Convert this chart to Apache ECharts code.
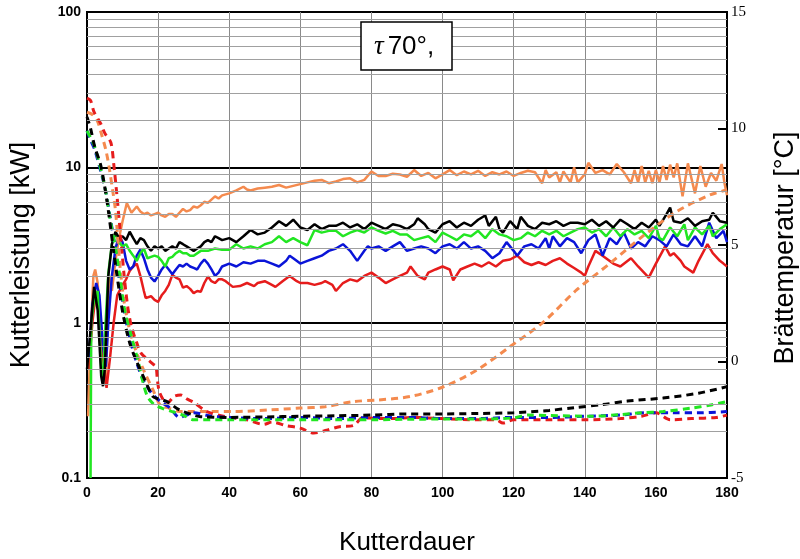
<!DOCTYPE html>
<html>
<head>
<meta charset="utf-8">
<script src="https://cdn.jsdelivr.net/npm/echarts@6/dist/echarts.min.js"></script>
<style>html,body{margin:0;padding:0;background:#fff}#c{width:800px;height:559px}</style>
</head>
<body>
<div id="c"></div>
<script>
// x: Kutterdauer, left y: Kutterleistung [kW] (log), right y: Brättemperatur [°C]
const xRange = [0, 180, 20];
const powerRange = [0.1, 100];
const tempRange = [-5, 15, 5];
const minorGrid = [0.2,0.3,0.4,0.5,0.6,0.7,0.8,0.9,2,3,4,5,6,7,8,9,20,30,40,50,60,70,80,90];

const blackPower = [[0,0.5],[1,0.9],[2,1.7],[3,1.2],[4,0.45],[4.5,0.39],[5,0.5],[6,2.0],[7,3.2],[8,3.85],[9,3.5],[10,3.6],[11,3.4],[12,3.85],[13,3.5],[14,3.2],[15,3.5],[16,3.4],[17,3.1],[18,2.9],[19,3.1],[20,3.0],[21,3.1],[22,2.9],[23,3.0],[24,3.1],[25,3.0],[26,3.3],[27,3.2],[28,3.1],[29,3.0],[30,2.9],[31,3.0],[32,3.1],[33,3.3],[34,3.4],[35,3.3],[36,3.6],[37,3.5],[38,3.4],[40,3.5],[42,3.3],[44,3.6],[46,3.95],[48,3.7],[50,3.8],[52,4.1],[54,4.5],[56,4.2],[58,4.6],[60,4.1],[62,3.95],[64,4.3],[66,4.0],[68,4.2],[70,4.2],[72,4.4],[74,4.1],[76,4.3],[78,4.0],[80,4.4],[82,4.2],[84,4.0],[86,4.3],[88,4.2],[90,4.0],[92,4.3],[93,4.7],[95,4.3],[96,4.0],[98,3.8],[100,4.3],[102,4.5],[104,4.1],[106,4.4],[108,4.2],[110,4.6],[112,4.9],[113,4.2],[115,4.8],[116,4.0],[117,3.8],[119,4.5],[121,4.0],[122,4.8],[124,4.2],[126,4.0],[128,4.4],[130,4.3],[132,4.5],[134,4.2],[136,4.4],[138,4.4],[140,4.3],[142,4.6],[144,4.2],[146,4.5],[148,4.1],[150,4.6],[152,4.3],[154,4.0],[156,4.4],[158,4.1],[160,4.6],[161,4.2],[163,5.0],[164,5.5],[165,4.5],[167,4.4],[169,4.7],[171,4.2],[173,4.5],[175,4.6],[176,5.1],[177,4.8],[178,4.5],[180,4.4]];

const greenPower = [[1,0.1],[1.2,1.0],[2,1.4],[3,1.6],[4,0.5],[4.5,0.42],[5,0.8],[6,2.1],[7,3.2],[8,3.8],[9,3.3],[10,3.1],[11,3.2],[12,2.9],[13,2.7],[14,2.5],[15,2.8],[16,3.0],[17,2.6],[18,2.65],[19,2.7],[20,2.65],[21,2.5],[22,2.3],[23,2.6],[24,2.65],[25,2.8],[26,2.9],[27,2.8],[28,2.8],[29,2.7],[30,2.7],[32,2.9],[34,2.9],[36,3.0],[38,2.95],[40,2.95],[42,3.2],[44,3.0],[46,3.1],[48,3.0],[50,3.2],[52,3.3],[54,3.6],[56,3.3],[58,3.5],[60,3.3],[62,3.15],[64,3.95],[66,3.8],[68,3.9],[70,3.9],[72,3.6],[74,3.8],[76,3.95],[78,3.8],[80,4.1],[82,3.9],[84,3.75],[86,3.9],[88,3.7],[90,3.7],[92,3.4],[94,3.5],[96,3.6],[98,3.3],[100,3.8],[102,3.6],[104,3.4],[106,3.7],[108,3.6],[110,3.9],[112,3.5],[114,4.0],[116,3.7],[118,3.6],[120,3.4],[122,3.5],[124,3.8],[126,3.6],[128,3.9],[130,3.7],[132,3.9],[134,3.6],[136,3.8],[138,4.0],[140,4.1],[142,3.8],[144,4.0],[146,3.6],[148,4.1],[150,3.6],[152,4.0],[154,3.7],[156,3.9],[158,3.5],[160,4.2],[161,3.5],[162,3.4],[164,4.1],[166,3.6],[168,4.3],[169,3.4],[171,4.1],[173,3.7],[175,4.2],[176,3.6],[178,4.0],[180,4.3]];

const bluePower = [[0.5,0.6],[1.5,1.3],[2.6,1.8],[3.5,1.5],[4.5,0.7],[5.3,0.52],[6,1.0],[7,2.0],[8,3.0],[9,3.6],[10,3.3],[11,2.5],[12,2.2],[13,2.3],[14,2.7],[15,2.95],[16,2.6],[17,2.2],[18,1.95],[19,1.84],[20,2.0],[21,2.2],[22,2.35],[23,2.2],[24,2.05],[25,2.2],[26,2.35],[27,2.3],[28,2.4],[29,2.3],[30,2.25],[31,2.2],[32,2.4],[33,2.55],[34,2.4],[35,2.2],[36,2.0],[37,2.1],[38,2.3],[40,2.4],[42,2.3],[44,2.45],[46,2.4],[48,2.5],[50,2.5],[52,2.4],[54,2.3],[56,2.5],[57,2.7],[58,2.6],[60,2.4],[62,2.5],[64,2.6],[66,2.7],[68,2.9],[70,3.0],[72,3.2],[74,2.9],[76,2.5],[78,2.9],[79,3.1],[80,3.0],[82,3.1],[84,2.9],[86,3.1],[88,3.3],[90,2.9],[92,3.0],[94,3.1],[96,3.0],[98,2.8],[100,3.1],[102,3.2],[104,3.0],[106,3.3],[108,3.0],[110,3.1],[112,2.9],[114,2.6],[116,2.8],[118,3.3],[120,2.9],[121,2.7],[123,3.1],[125,3.2],[127,3.0],[129,3.5],[130,3.0],[131,3.6],[133,3.1],[135,3.5],[137,3.3],[139,2.8],[141,3.4],[143,3.7],[145,2.7],[147,3.5],[149,3.2],[151,3.8],[153,3.0],[155,3.3],[157,3.1],[159,3.6],[161,3.4],[163,3.1],[165,3.7],[167,3.2],[169,3.1],[171,3.6],[173,3.1],[175,4.4],[177,3.5],[179,3.9],[180,3.3]];

const redPower = [[0.5,0.5],[1.5,1.0],[2.6,1.6],[3.5,1.2],[4.5,0.6],[5.5,0.38],[6.5,0.6],[7.5,1.0],[8.5,1.5],[10,1.75],[11,1.9],[12,2.15],[13,2.3],[14,2.4],[15,2.0],[16,1.6],[16.5,1.44],[18,1.48],[19,1.4],[20,1.36],[21,1.5],[22,1.6],[23,1.75],[24,2.03],[25,1.95],[26,1.9],[27,1.68],[28,1.72],[29,1.65],[30,1.55],[31,1.6],[32,1.58],[33,1.8],[34,1.98],[35,1.85],[36,1.8],[37,1.9],[38,1.9],[39,1.85],[41,1.7],[43,1.72],[45,1.8],[47,1.72],[48,1.8],[50,1.85],[52,1.75],[53,1.7],[55,1.85],[57,2.0],[59,1.85],[60,1.8],[62,1.8],[64,1.75],[66,1.8],[67,1.85],[69,1.75],[70,1.6],[72,1.8],[74,1.9],[76,1.85],[78,2.0],[80,2.1],[82,1.95],[84,1.8],[86,1.9],[88,2.0],[90,2.1],[91,2.3],[93,2.0],[95,1.9],[96,2.1],[98,2.2],[100,2.3],[102,2.2],[103,1.87],[105,2.2],[107,2.3],[109,2.4],[111,2.3],[113,2.45],[115,2.3],[117,2.5],[119,2.55],[121,2.7],[123,2.45],[125,2.35],[127,2.45],[129,2.35],[131,2.5],[133,2.6],[135,2.4],[137,2.25],[139,2.1],[140,2.0],[141,2.3],[143,2.9],[145,2.7],[148,2.4],[150,2.3],[153,2.6],[155,2.3],[158,1.95],[160,2.4],[162.6,3.1],[164,2.7],[165,2.8],[167,2.5],[168,2.3],[170.5,2.1],[172,2.5],[174.5,3.2],[176,2.8],[178,2.5],[179,2.4],[180,2.3]];

const orangePower = [[0.3,0.25],[1,0.8],[1.8,2.0],[2.3,2.2],[3,1.8],[4,0.8],[5.3,0.4],[6.2,2.0],[7,1.6],[8,2.5],[9,3.5],[10,4.5],[11.2,5.9],[12.5,5.1],[14,5.6],[15,5.2],[16,5.0],[17,5.1],[18,4.9],[19,5.0],[20,5.1],[21,4.9],[22,4.8],[23,5.0],[24,5.0],[25,4.8],[26,5.1],[27,5.4],[28,5.2],[29,5.3],[30,5.6],[31,5.5],[32,5.7],[33,6.0],[34,5.9],[35,6.2],[36,6.5],[37,6.3],[38,6.6],[40,6.8],[42,7.1],[44,7.5],[45,7.2],[46,7.1],[48,7.3],[50,7.4],[52,7.5],[54,7.7],[56,7.4],[58,7.6],[60,7.8],[62,8.0],[64,8.2],[66,8.3],[68,7.9],[70,8.1],[72,8.4],[74,8.5],[76,8.0],[78,8.3],[80,9.4],[82,8.8],[84,8.8],[86,9.1],[88,9.0],[90,8.7],[92,9.6],[94,8.8],[96,9.2],[98,8.5],[100,9.0],[102,9.6],[104,8.9],[106,9.4],[108,9.0],[110,9.5],[112,8.8],[114,9.3],[116,9.0],[118,9.4],[120,8.8],[122,9.2],[124,9.5],[126,9.3],[128,7.9],[129,9.6],[130,8.6],[132,9.3],[133,8.0],[134,9.4],[136,8.0],[137,10.0],[138,8.0],[140,9.0],[141,10.7],[143,9.2],[145,9.6],[147,9.0],[149,10.5],[151,9.3],[153,7.9],[154,9.6],[155,8.0],[156,10.2],[157,8.0],[158,9.5],[159,7.9],[160,9.6],[161,8.0],[162,10.2],[163,8.3],[164,10.4],[165,8.6],[166,10.6],[167.5,6.5],[169,10.6],[171,6.8],[172.5,10.2],[174,7.5],[175.5,9.2],[177,8.2],[178.5,10.5],[179.3,7.9],[180,6.6]];

const blackTemp = [[0,10.5],[1,10.0],[2.2,9.2],[3.9,8.4],[5.6,6.9],[6.5,5.9],[7.7,4.5],[9,3.1],[10.3,1.9],[12,0.8],[13.8,0.06],[16.6,-0.9],[18.5,-1.5],[20,-1.6],[22.5,-1.72],[26,-2.08],[30,-2.3],[32,-2.37],[40,-2.4],[50,-2.38],[60,-2.35],[70,-2.33],[80,-2.3],[90,-2.25],[100,-2.25],[110,-2.23],[120,-2.2],[130,-2.1],[137,-1.98],[145,-1.85],[152,-1.7],[162,-1.57],[172,-1.36],[180,-1.08]];
const blueTemp = [[0,9.9],[1,9.5],[2.2,9.08],[3.8,8.2],[5.2,7.36],[6.5,6.2],[7.7,5.1],[9,3.6],[10.4,2.2],[12.2,0.9],[14,-0.06],[15.8,-0.8],[17,-1.1],[18.6,-1.44],[21,-1.75],[23.4,-2.0],[26,-2.4],[28,-2.3],[30,-2.2],[35,-2.35],[40,-2.4],[50,-2.45],[60,-2.4],[70,-2.45],[80,-2.4],[90,-2.4],[100,-2.45],[110,-2.45],[120,-2.4],[130,-2.4],[140,-2.35],[150,-2.3],[157,-2.2],[165,-2.2],[172,-2.2],[180,-2.15]];
const greenTemp = [[0,9.9],[1,9.6],[2.2,9.2],[3.8,8.3],[5.2,7.36],[6.5,6.1],[8,4.9],[9.3,3.6],[10.6,2.2],[12.5,1.07],[14.3,0.06],[15.6,-0.8],[17,-1.5],[19,-1.87],[21,-2.0],[24,-2.15],[27,-2.3],[30,-2.5],[40,-2.5],[50,-2.5],[60,-2.5],[70,-2.5],[80,-2.5],[90,-2.48],[100,-2.47],[110,-2.47],[120,-2.42],[124,-2.3],[130,-2.32],[142,-2.35],[150,-2.28],[156,-2.2],[162,-2.15],[170,-2.0],[175,-1.88],[180,-1.72]];
const redTemp = [[0,11.3],[1,11.2],[2,10.7],[3.9,10.2],[5,9.8],[6.7,9.4],[7.5,8.5],[8.5,7.0],[9.5,5.3],[10.5,3.6],[11.5,2.3],[12.5,1.5],[14,0.8],[15.2,0.36],[17,0.1],[18.5,-0.1],[19.4,-0.22],[19.8,-0.8],[20.5,-1.36],[22.5,-1.8],[24.5,-1.5],[26.4,-1.44],[28,-1.6],[30,-1.75],[33.7,-2.15],[39,-2.37],[45,-2.5],[49.7,-2.7],[52,-2.6],[56,-2.75],[60,-2.86],[63.8,-3.07],[67.4,-2.95],[71,-2.8],[74.9,-2.75],[77.7,-2.4],[81.5,-2.45],[86,-2.45],[91.7,-2.4],[100,-2.45],[110,-2.5],[115,-2.5],[117,-2.64],[120,-2.5],[130,-2.5],[140,-2.5],[150,-2.45],[156,-2.35],[160,-2.2],[164,-2.5],[170,-2.45],[177,-2.4],[180,-2.3]];
const orangeTemp = [[0,10.7],[1.5,10.6],[3,10.3],[4,9.8],[5.3,9.08],[6.2,8.36],[7.2,7.36],[8,6.5],[8.7,5.2],[9.4,3.9],[10.5,2.5],[12,1.35],[14,0.36],[16.3,-0.5],[18.5,-1.2],[20.6,-1.87],[23,-2.0],[26,-2.15],[35,-2.15],[41,-2.15],[51,-2.08],[60,-2.0],[67,-1.94],[75,-1.72],[82,-1.65],[91,-1.5],[100.4,-1.08],[109.7,-0.36],[119,0.64],[128.4,1.7],[137.7,3.07],[147,4.2],[156.5,5.4],[165.8,6.43],[175.2,7.15],[180,7.36]];

const C = {black:'#000000', green:'#22e622', blue:'#0a14d8', red:'#e61c1c', orange:'#f48a4e'};

function solid(name, data, color){
  return {name, type:'line', yAxisIndex:0, data, symbol:'none', z:3,
    lineStyle:{color, width:2.5}, silent:true, animation:false};
}
function dashed(name, data, color){
  return {name, type:'line', yAxisIndex:1, data, symbol:'none', z:4, smooth:0.3,
    lineStyle:{color, width:3, type:[7,5]}, silent:true, animation:false};
}

const chart = echarts.init(document.getElementById('c'), null, {renderer:'canvas'});
chart.setOption({
  animation:false,
  backgroundColor:'#ffffff',
  grid:{left:87, right:73, top:12, bottom:81, show:true, borderColor:'#000', borderWidth:2, backgroundColor:'transparent'},
  xAxis:{type:'value', min:xRange[0], max:xRange[1], interval:xRange[2],
    axisLine:{onZero:false, lineStyle:{color:'#000', width:2}}, axisTick:{show:false},
    axisLabel:{color:'#000', fontFamily:'Liberation Sans', fontWeight:'bold', fontSize:14, margin:8},
    splitLine:{show:true, lineStyle:{color:'#8a8a8a', width:1}}},
  yAxis:[
    {type:'log', logBase:10, min:powerRange[0], max:powerRange[1], position:'left',
      axisLine:{show:true, onZero:false, lineStyle:{color:'#000', width:2}}, axisTick:{show:false},
      axisLabel:{color:'#000', fontFamily:'Liberation Sans', fontWeight:'bold', fontSize:14, margin:6},
      splitLine:{show:true, lineStyle:{color:'#000', width:2}}},
    {type:'value', min:tempRange[0], max:tempRange[1], interval:tempRange[2], position:'right',
      axisLine:{show:true, onZero:false, lineStyle:{color:'#000', width:2}},
      axisTick:{show:true, inside:true, length:9, lineStyle:{color:'#000', width:2}},
      axisLabel:{color:'#000', fontFamily:'Liberation Serif', fontSize:15, margin:4},
      splitLine:{show:false}}
  ],
  series:[
    {name:'minor', type:'line', yAxisIndex:0, data:[[0,1],[180,1]], symbol:'none', z:1, silent:true,
      lineStyle:{opacity:0},
      markLine:{silent:true, symbol:'none', animation:false, label:{show:false},
        lineStyle:{color:'#a0a0a0', width:1.2, type:'solid'},
        data: minorGrid.map(v=>({yAxis:v}))}},
    solid('orangeP', orangePower, C.orange),
    solid('redP', redPower, C.red),
    solid('blueP', bluePower, C.blue),
    solid('greenP', greenPower, C.green),
    solid('blackP', blackPower, C.black),
    dashed('orangeT', orangeTemp, C.orange),
    dashed('redT', redTemp, C.red),
    dashed('blueT', blueTemp, C.blue),
    dashed('greenT', greenTemp, C.green),
    dashed('blackT', blackTemp, C.black)
  ],
  graphic:[
    {type:'text', rotation:Math.PI/2, position:[22,255],
      style:{text:'Kutterleistung [kW]', font:'27px "Liberation Sans"', fill:'#000', textAlign:'center', textVerticalAlign:'middle'}},
    {type:'text', rotation:Math.PI/2, position:[786,248],
      style:{text:'Brättemperatur [°C]', font:'27px "Liberation Sans"', fill:'#000', textAlign:'center', textVerticalAlign:'middle'}},
    {type:'text', position:[407,543],
      style:{text:'Kutterdauer', font:'26px "Liberation Sans"', fill:'#000', textAlign:'center', textVerticalAlign:'middle'}},
    {type:'rect', shape:{x:361, y:22, width:91, height:48}, style:{fill:'#fff', stroke:'#000', lineWidth:1.5}, z:10},
    {type:'text', z:11, position:[374,47],
      style:{rich:{t:{font:'italic 27px "Liberation Serif"', fill:'#000'}, n:{font:'26px "Liberation Sans"', fill:'#000', padding:[0,0,0,4]}},
        text:'{t|τ}{n|70°,}', textVerticalAlign:'middle'}}
  ]
});
</script>
</body>
</html>
